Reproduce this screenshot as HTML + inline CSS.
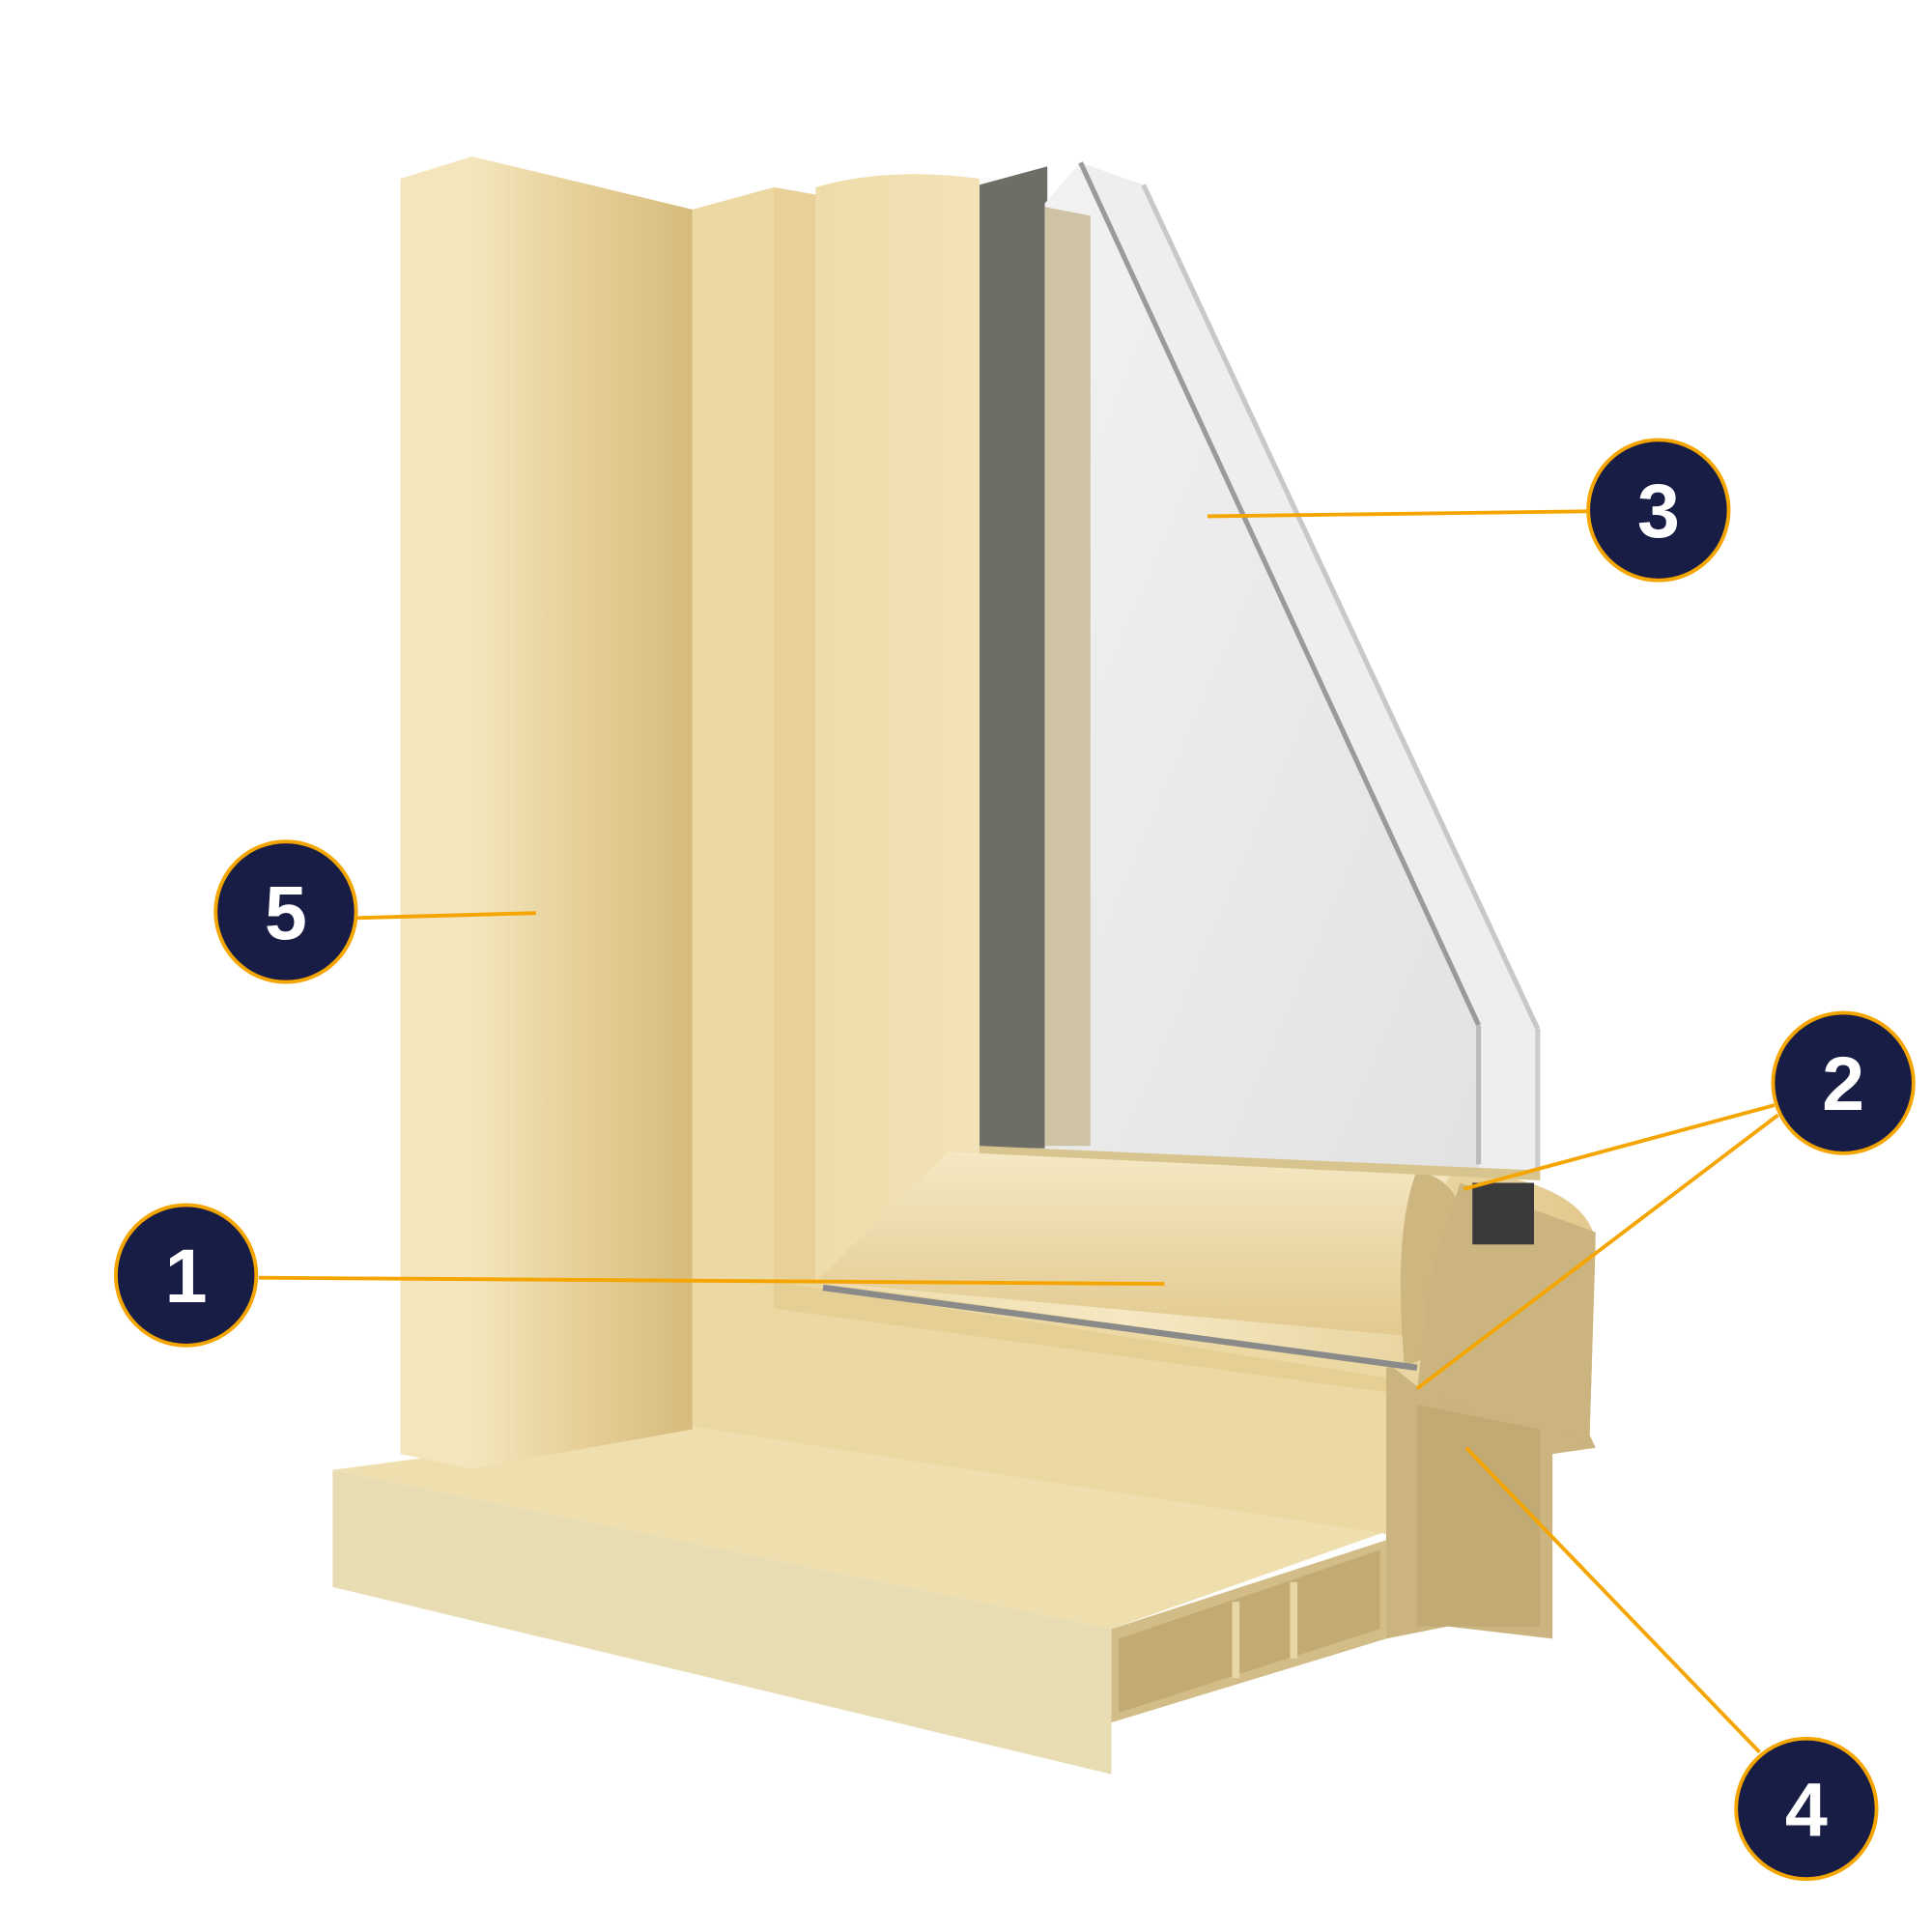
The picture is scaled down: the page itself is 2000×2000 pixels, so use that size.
<!DOCTYPE html>
<html><head><meta charset="utf-8"><style>
html,body{margin:0;padding:0;background:#fff}
svg{display:block}
</style></head><body>
<svg width="2000" height="2000" viewBox="0 0 1568 1568" xmlns="http://www.w3.org/2000/svg">
<defs>
<linearGradient id="jamb" x1="0" x2="1" y1="0" y2="0">
<stop offset="0" stop-color="#f4e6bd"/><stop offset="0.5" stop-color="#e6cf98"/><stop offset="1" stop-color="#d6bb7c"/></linearGradient>
<linearGradient id="sash" x1="0" x2="1" y1="0" y2="0">
<stop offset="0" stop-color="#efdcaa"/><stop offset="0.4" stop-color="#f5e8c2"/><stop offset="1" stop-color="#e3c98e"/></linearGradient>
<linearGradient id="sashb" x1="0" x2="0" y1="0" y2="1">
<stop offset="0" stop-color="#f5e8c3"/><stop offset="1" stop-color="#e2c98f"/></linearGradient>
<linearGradient id="glass" x1="0" x2="1" y1="0" y2="1">
<stop offset="0" stop-color="#f2f2f2"/><stop offset="1" stop-color="#e2e2e2"/></linearGradient>
</defs>
<!-- sill top -->
<polygon points="270,1193 383,1178 562,1158 1125,1243 902,1322" fill="#f0dfae"/>
<!-- sill front -->
<polygon points="270,1193 902,1322 902,1440 270,1288" fill="#e8dcb2"/>
<!-- sill end cross-section -->
<polygon points="902,1322 1125,1250 1125,1330 902,1398" fill="#d2bc88"/>
<polygon points="908,1330 1120,1258 1120,1322 908,1390" fill="#b99f66" opacity="0.6"/>
<line x1="1003" y1="1300" x2="1003" y2="1362" stroke="#e7d6a6" stroke-width="6"/>
<line x1="1050" y1="1284" x2="1050" y2="1346" stroke="#e7d6a6" stroke-width="6"/>
<!-- left jamb -->
<polygon points="325,145 383,127 383,1192 325,1180" fill="#f4e5bc"/>
<polygon points="383,127 562,170 562,1160 383,1192" fill="url(#jamb)"/>
<!-- frame strip -->
<polygon points="562,170 628,152 662,158 662,1040 1150,1105 1150,1125 1125,1125 1125,1245 562,1158" fill="#ecd8a2"/>
<polygon points="628,152 662,158 662,1040 628,1040" fill="#e8d098"/>
<polygon points="628,1040 1125,1118 1125,1130 628,1062" fill="#e6cf95"/>
<!-- cross-section right -->
<polygon points="1125,1110 1150,1105 1260,1100 1295,1175 1260,1180 1260,1330 1175,1320 1125,1330" fill="#cbb47f"/>
<polygon points="1150,1140 1250,1160 1250,1320 1150,1320" fill="#b9a06a" opacity="0.5"/>
<!-- sash -->
<path d="M662,152 Q720,135 795,145 L795,930 L1180,948 Q1290,960 1295,1010 L1290,1170 L1150,1125 L1125,1105 L662,1040 Z" fill="url(#sash)"/>
<path d="M662,1040 L770,935 L1180,948 Q1150,1000 1150,1085 L662,1040 Z" fill="url(#sashb)"/>
<path d="M1150,950 Q1190,960 1185,1000 L1160,1100 L1140,1110 Q1130,1000 1150,950 Z" fill="#cdb680"/>
<polygon points="1185,960 1295,1000 1290,1170 1150,1130 1160,1040" fill="#cbb47f"/>
<rect x="1195" y="960" width="50" height="50" fill="#3a3a3a"/>
<line x1="668" y1="1045" x2="1150" y2="1110" stroke="#8a8a8a" stroke-width="5"/>
<!-- glass -->
<polygon points="795,150 850,135 850,932 795,932" fill="#6e6e66"/>
<polygon points="848,165 877,132 1200,832 1200,950 848,935" fill="url(#glass)"/>
<polygon points="885,175 885,930 848,930 848,168" fill="#cfc3a5"/>
<polygon points="877,132 928,150 1248,835 1248,952 1200,950 1200,832" fill="#eeeeee"/>
<line x1="877" y1="132" x2="1200" y2="832" stroke="#9a9a9a" stroke-width="4"/>
<line x1="928" y1="150" x2="1248" y2="835" stroke="#c8c8c8" stroke-width="4"/>
<line x1="1200" y1="832" x2="1200" y2="945" stroke="#bbbbbb" stroke-width="4"/>
<line x1="1248" y1="835" x2="1248" y2="948" stroke="#cccccc" stroke-width="4"/>
<polygon points="795,930 1250,950 1250,958 795,936" fill="#d8c48f"/>
<!-- leader lines -->
<g stroke="#f5a500" stroke-width="3" fill="none">
<line x1="290" y1="745" x2="435" y2="741"/>
<line x1="210" y1="1037" x2="945" y2="1042"/>
<line x1="1288" y1="415" x2="980" y2="419"/>
<line x1="1440" y1="897" x2="1188" y2="965"/>
<line x1="1443" y1="905" x2="1150" y2="1127"/>
<line x1="1428" y1="1422" x2="1190" y2="1175"/>
</g>
<g fill="#181d45" stroke="#f5a500" stroke-width="3">
<circle cx="151" cy="1035" r="57"/>
<circle cx="1496" cy="879" r="57"/>
<circle cx="1346" cy="414" r="57"/>
<circle cx="1466" cy="1468" r="57"/>
<circle cx="232" cy="740" r="57"/>
</g>
<g fill="#fff" font-family="Liberation Sans, sans-serif" font-weight="bold" font-size="62" text-anchor="middle">
<text x="151" y="1057">1</text>
<text x="1496" y="901">2</text>
<text x="1346" y="436">3</text>
<text x="1466" y="1490">4</text>
<text x="232" y="762">5</text>
</g>
</svg>
</body></html>
